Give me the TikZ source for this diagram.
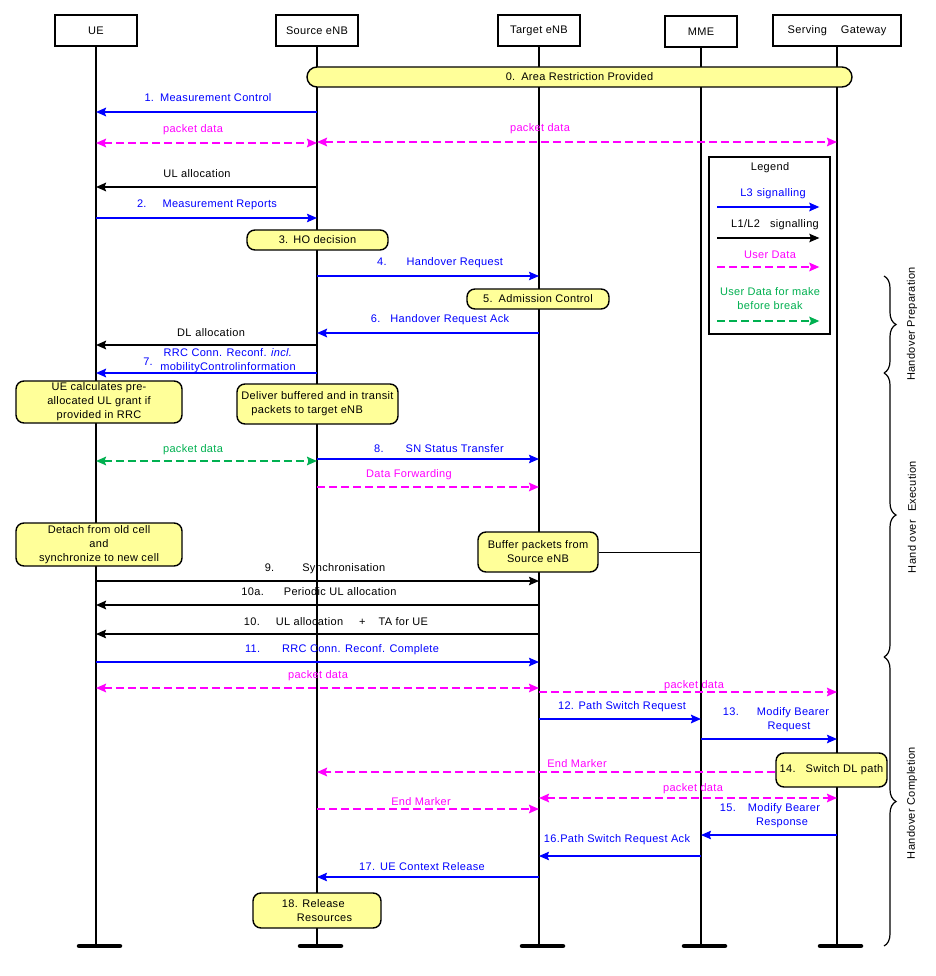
\documentclass[tikz,border=0pt]{standalone}
\usepackage{fontspec}
\setmainfont{Liberation Sans}[LetterSpace=3]
\usetikzlibrary{arrows.meta,decorations.pathreplacing}
\definecolor{sigblue}{RGB}{0,0,255}
\definecolor{udmag}{RGB}{255,0,255}
\definecolor{mbbgreen}{RGB}{0,176,80}
\definecolor{notefill}{RGB}{255,255,153}
\begin{document}
\begin{tikzpicture}[x=1pt,y=1pt,yscale=-1,
  font=\fontsize{11}{14}\selectfont,
  >={Stealth[length=10pt,width=8.5pt,inset=1.5pt]},
  actor/.style={draw, line width=1.5pt, minimum height=31pt, inner sep=0pt},
  life/.style={line width=1.6pt},
  endbar/.style={line width=4.5pt, line cap=round},
  note/.style={draw, line width=1.4pt, fill=notefill, rounded corners=8pt, inner sep=0pt, align=center},
  sig3/.style={sigblue, line width=1.2pt, ->},
  sig12/.style={black, line width=1.2pt, ->},
  fat/.style={line width=2pt},
  udata/.style={udmag, line width=2pt, dash pattern=on 8pt off 4pt, ->},
  mbb/.style={mbbgreen, line width=2pt, dash pattern=on 8pt off 4pt, ->},
  lbl/.style={inner sep=0pt},
  lbl3/.style={lbl, text=sigblue},
  lblud/.style={lbl, text=udmag},
  phasebrace/.style={decorate, decoration={brace, amplitude=12pt}, line width=1.2pt}]
\useasboundingbox (0,0) rectangle (935,976);

% Actors
\node[actor, minimum width=82pt] (ue) at (96,30.5) {UE};
\node[actor, minimum width=82pt] (senb) at (317,30.5) {Source eNB};
\node[actor, minimum width=82pt] (tenb) at (539,30.5) {Target eNB};
\node[actor, minimum width=72pt] (mme) at (701,31.5) {MME};
\node[actor, minimum width=128pt] (sgw) at (837,30.5) {Serving\hspace{14pt}Gateway};

% Life lines
\foreach \a in {ue,senb,tenb,mme,sgw}{
  \coordinate (\a end) at (\a.south |- 0,946);
  \draw[life] (\a.south) -- (\a end);
  \draw[endbar] ([xshift=-17pt]\a end) -- ([xshift=24pt]\a end);
}

% 0
\node[note, rounded corners=10pt, minimum width=545pt, minimum height=20pt] (arp) at (579.5,77) {0.\hspace{6pt}Area Restriction Provided};

% 1
\draw[sig3,fat] (senb |- 0,112) -- (ue |- 0,112);
\node[lbl3] (m1) at (208,98) {1.\hspace{6pt}Measurement Control};
%packet data
\draw[udata,<->] (ue |- 0,143) -- (senb |- 0,143);
\node[lblud] (pd1) at (193,130) {packet data};
\draw[udata,<->] (senb |- 0,142) -- (sgw |- 0,142);
\node[lblud] (pd2) at (540,129) {packet data};
%UL allocation
\draw[sig12,fat] (senb |- 0,187) -- (ue |- 0,187);
\node[lbl] (ulal) at (197,174) {UL allocation};
% 2
\draw[sig3] (ue |- 0,218) -- (senb |- 0,218);
\node[lbl3] (m2) at (207,205) {2.\hspace{16pt}Measurement Reports};
% 3
\node[note, minimum width=141pt, minimum height=20pt] (hodec) at (317.5,240) {3.\hspace{5pt}HO decision};
% 4
\draw[sig3] (senb |- 0,276) -- (tenb |- 0,276);
\node[lbl3] (m4) at (440,263) {4.\hspace{20pt}Handover Request};
% 5
\node[note, minimum width=142pt, minimum height=20pt] (admc) at (538,299) {5.\hspace{6pt}Admission Control};
% 6
\draw[sig3,fat] (tenb |- 0,333) -- (senb |- 0,333);
\node[lbl3] (m6) at (440,320) {6.\hspace{10pt}Handover Request Ack};
%DL allocation
\draw[sig12,fat] (senb |- 0,345) -- (ue |- 0,345);
\node[lbl] (dlal) at (211,333) {DL\hspace{4pt}allocation};
% 7
\draw[sig3,fat] (senb |- 0,373) -- (ue |- 0,373);
\node[lbl3] (m7) at (148,362) {7.};
\node[lbl3, align=center] (m7t) at (228,360.5) {RRC Conn. Reconf. \textit{incl.}\\mobilityControlinformation};

% Text Node
\node[note, minimum width=166pt, minimum height=42pt] (uecalc) at (99,402) {UE calculates pre-\\allocated UL grant if\\provided in RRC};
\node[note, minimum width=161pt, minimum height=40pt, align=left] (dlvr) at (317.5,404) {Deliver buffered and in transit\\\hspace{10pt}packets to target eNB};

%packet data
\draw[mbb,<->] (ue |- 0,461) -- (senb |- 0,461);
\node[lbl, text=mbbgreen] (pd3) at (193,450) {packet data};
% 8
\draw[sig3] (senb |- 0,459) -- (tenb |- 0,459);
\node[lbl3] (m8) at (439,449) {8.\hspace{22pt}SN Status Transfer};
%Data Forwarding
\draw[udata] (senb |- 0,487) -- (tenb |- 0,487);
\node[lblud] (dfwd) at (409,475) {Data Forwarding};

% Text Node
\node[note, minimum width=166pt, minimum height=43pt] (detach) at (99,544.5) {Detach from old cell\\and\\synchronize to new cell};
\node[note, minimum width=120pt, minimum height=40pt] (bufpk) at (538,552) {Buffer packets from\\Source eNB};
\draw[line width=1pt] (bufpk.east) -- (mme |- bufpk.east);

% 9
\draw[sig12] (ue |- 0,581) -- (tenb |- 0,581);
\node[lbl] (m9) at (325,569) {9.\hspace{28pt}Synchronisation};
% 10a
\draw[sig12,fat] (tenb |- 0,605) -- (ue |- 0,605);
\node[lbl] (m10a) at (319,592) {10a.\hspace{20pt}Periodic UL allocation};
% 10
\draw[sig12] (tenb |- 0,634) -- (ue |- 0,634);
\node[lbl] (m10) at (336,622) {10.\hspace{16pt}UL allocation\hspace{16pt}+\hspace{13pt}TA for UE};
% 11
\draw[sig3] (ue |- 0,662) -- (tenb |- 0,662);
\node[lbl3] (m11) at (342,650) {11.\hspace{22pt}RRC Conn. Reconf. Complete};
%packet data
\draw[udata,<->] (ue |- 0,688) -- (tenb |- 0,688);
\node[lblud] (pd4) at (318,676) {packet data};
\draw[udata] (tenb |- 0,692) -- (sgw |- 0,692);
\node[lblud] (pd5) at (694,686) {packet data};
% 12
\draw[sig3,fat] (tenb |- 0,719) -- (mme |- 0,719);
\node[lbl3] (m12) at (622,707) {12. Path Switch Request};
% 13
\draw[sig3] (mme |- 0,739) -- (sgw |- 0,739);
\node[lbl3, align=center] (m13) at (776,720) {13.\hspace{18pt}Modify Bearer\\\hspace{26pt}Request};
% 14
\node[note, minimum width=111pt, minimum height=34pt] (swdl) at (831.5,770) {14.\hspace{10pt}Switch DL path};
%End Marker
\draw[udata] (swdl.west |- 0,772) -- (senb |- 0,772);
\node[lblud] (em1) at (577,764) {End Marker};
%packet data
\draw[udata,<->] (tenb |- 0,798) -- (sgw |- 0,798);
\node[lblud] (pd6) at (693,789) {packet data};
%End Marker
\draw[udata] (senb |- 0,809) -- (tenb |- 0,809);
\node[lblud] (em2) at (421,802) {End Marker};
% 15
\draw[sig3] (sgw |- 0,835) -- (mme |- 0,835);
\node[lbl3, align=center] (m15) at (770,816) {15.\hspace{12pt}Modify Bearer\\\hspace{24pt}Response};
% 16
\draw[sig3] (mme |- 0,856) -- (tenb |- 0,856);
\node[lbl3] (m16) at (617,840) {16.Path Switch Request Ack};
% 17
\draw[sig3] (tenb |- 0,877) -- (senb |- 0,877);
\node[lbl3] (m17) at (422,867) {17.\hspace{5pt}UE Context Release};
% 18
\node[note, minimum width=128pt, minimum height=35pt, align=left] (relres) at (317,910.5) {18. Release\\\hspace{15pt}Resources};

%Shape: Legend
\node[draw, line width=1.3pt, fill=white, minimum width=121pt, minimum height=177pt, inner sep=0pt] (legend) at (769.5,245.5) {};
\node[lbl] (legt) at (770,168) {Legend};
\node[lbl3] (lg3) at (773,194) {L3\hspace{4pt}signalling};
\draw[sig3,fat] (legend.west |- 0,207) ++(9,0) -- ++(102,0);
\node[lbl] (lg12) at (775,225) {L1/L2\hspace{10pt}signalling};
\draw[sig12] (legend.west |- 0,238) ++(9,0) -- ++(102,0);
\node[lblud] (lgud) at (770,255) {User Data};
\draw[udata] (legend.west |- 0,267) ++(9,0) -- ++(102,0);
\node[lbl, text=mbbgreen, align=center] (lgmbb) at (770,299) {User Data for make\\before break};
\draw[mbb] (legend.west |- 0,321) ++(9,0) -- ++(102,0);

%Braces
\draw[phasebrace] (884,276) -- (884,373);
\draw[phasebrace] (884,373) -- (884,657);
\draw[phasebrace] (884,657) -- (884,946);
\node[lbl, rotate=90] (phprep) at (912,324) {Handover Preparation};
\node[lbl, rotate=90] (phexec) at (912,517) {Hand over\hspace{8pt}Execution};
\node[lbl, rotate=90] (phcomp) at (912,803) {Handover Completion};

\end{tikzpicture}
\end{document}
